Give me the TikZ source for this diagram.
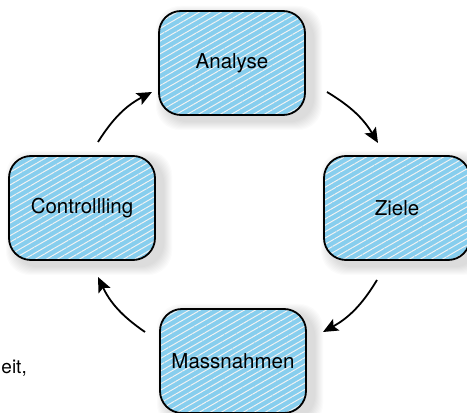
\documentclass[tikz,border=0pt]{standalone}
\usepackage{fontspec}
\setmainfont{TeX Gyre Heros}
\usetikzlibrary{arrows.meta,patterns.meta}
\definecolor{boxblue}{RGB}{135,206,238}
\tikzset{
  stage/.style={rounded corners=22pt, minimum width=146pt, minimum height=104pt,
    fill=boxblue, inner sep=0pt,
    postaction={pattern={Lines[angle=30,distance=5.5pt,line width=1pt]}, pattern color=white!90!gray},
    postaction={draw=black, line width=1.8pt},
    font=\fontsize{20.5}{24}\selectfont},
  flow/.style={line width=1.8pt, -{Stealth[length=15pt,width=13pt,inset=3pt]}},
}
\begin{document}
\begin{tikzpicture}[x=1pt,y=1pt]
\useasboundingbox (0,0) rectangle (467,413);
% shadows
\foreach \cx/\cy in {232/350, 397/205, 82/205, 233/52}{
  \foreach \k in {1,...,9}{
    \fill[black, opacity=0.017, rounded corners=24pt]
      (\cx-73+6-\k,\cy-52-6-\k) rectangle (\cx+73+8+\k,\cy+52-4+\k);
  }
}
\node[stage] (ana) at (232,350) {Analyse};
\node[stage] (zie) at (397,205) {Ziele};
\node[stage] (con) at (82,205) {Controllling};
\node[stage] (mas) at (233,52) {Massnahmen};
\node[anchor=base east, font=\fontsize{19}{22}\selectfont, inner sep=0pt] (eit) at (27,39) {eit,};
% connector ends
\coordinate (a1s) at (98,271);  \coordinate (a1e) at (152,321);
\coordinate (a2s) at (327,321); \coordinate (a2e) at (378,270);
\coordinate (a3s) at (377,133); \coordinate (a3e) at (323,81);
\coordinate (a4s) at (145,81);  \coordinate (a4e) at (98,136);
\draw[flow] (a1s) to[bend left=15] (a1e);
\draw[flow] (a2s) to[bend left=14] (a2e);
\draw[flow] (a3s) to[bend left=15] (a3e);
\draw[flow] (a4s) to[bend left=15] (a4e);
\end{tikzpicture}
\end{document}
